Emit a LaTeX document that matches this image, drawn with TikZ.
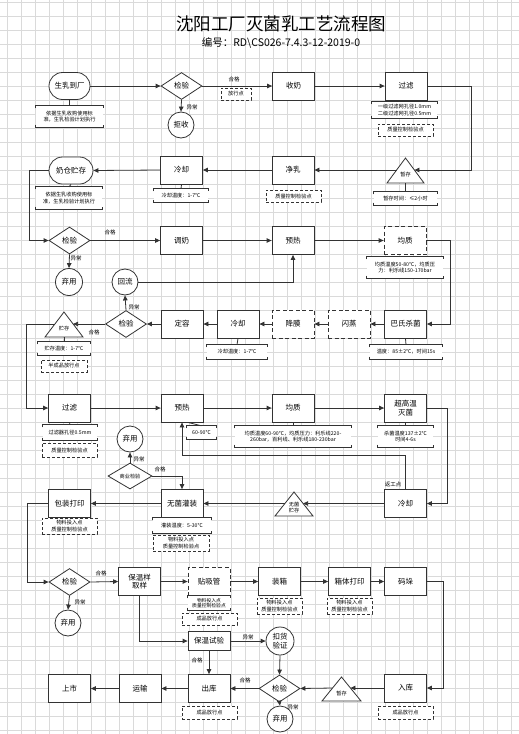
\documentclass[tikz,border=0pt]{standalone}
\usepackage{fontspec}
\setmainfont{Noto Sans CJK SC}
\usetikzlibrary{shapes.geometric,arrows.meta,calc}
\definecolor{lnc}{HTML}{333333}
\definecolor{gridc}{HTML}{DADADA}
\newcommand\boxf{\fontsize{7.5}{8.5}\selectfont}
\newcommand\notef{\fontsize{5.2}{6.4}\selectfont}
\newcommand\labf{\fontsize{5.5}{6.5}\selectfont}
\newcommand\notebrk[1]{\draw[ln,line width=0.7pt] ([yshift=-2.5pt]#1.north west) -- (#1.north west) -- (#1.north east) -- ([yshift=-2.5pt]#1.north east) ([yshift=2.5pt]#1.south west) -- (#1.south west) -- (#1.south east) -- ([yshift=2.5pt]#1.south east);}
\tikzset{
 ln/.style={draw=lnc, line width=0.8pt},
 arr/.style={ln, -{Triangle[length=5pt,width=4.5pt]}},
 proc/.style={ln, fill=white, minimum width=42pt, minimum height=28pt, font=\boxf, align=center, inner sep=1pt},
 dproc/.style={proc, dash pattern=on 4pt off 2.5pt},
 term/.style={proc, rounded corners=13.5pt, minimum height=27pt},
 dec/.style={ln, fill=white, diamond, minimum width=41pt, minimum height=27pt, inner sep=0pt, font=\boxf},
 circ/.style={ln, fill=white, circle, minimum size=26pt, inner sep=0pt, font=\boxf, align=center},
 note/.style={fill=white, font=\notef, align=center, inner sep=0.5pt},
 dnote/.style={note, ln, dash pattern=on 3pt off 2pt, line width=0.7pt},
 lab/.style={font=\labf, inner sep=0.5pt},
 trit/.style={font=\notef, align=center, inner sep=0pt},
 tri/.style={ln, fill=white},
}
\begin{document}
\begin{tikzpicture}[x=1pt,y=-1pt]
\useasboundingbox (0,0) rectangle (519,734);
\fill[white] (0,0) rectangle (519,734);
\foreach \x in {7,21,...,517} \draw[gridc,line width=0.5pt] (\x,0) -- (\x,734);
\foreach \y in {2,16,...,733} \draw[gridc,line width=0.5pt] (0,\y) -- (519,\y);

% title
\node (title) at (281,24) {\fontsize{17.5}{20}\selectfont 沈阳工厂灭菌乳工艺流程图};
\node (sub) at (281,43) {\fontsize{10.5}{12}\selectfont 编号：RD\textbackslash CS026-7.4.3-12-2019-0};

% row 1
\node[term, minimum width=41pt] (a1) at (69.5,86) {生乳到厂};
\node[note, minimum width=67pt, minimum height=21pt] (a1n) at (69.5,116.5) {依据生乳收购使用标\\准，生乳检验计划执行}; \notebrk{a1n}
\node[dec] (a2) at (181.5,86) {检验};
\node[lab] (a2g) at (234,79) {合格};
\node[dnote, minimum width=30pt, minimum height=12pt] (a2p) at (236,94) {放行点};
\node[lab] (a2x) at (192,107) {异常};
\node[circ, minimum size=26pt] (a3) at (181,125) {拒收};
\node[proc] (a4) at (293.5,86) {收奶};
\node[proc] (a5) at (406,86) {过滤};
\node[note, minimum width=65pt, minimum height=16pt] (a5n) at (404.5,110) {一级过滤网孔径1.0mm\\二级过滤网孔径0.5mm}; \notebrk{a5n}
\node[dnote, minimum width=55pt, minimum height=12pt] (a5d) at (405.5,130) {质量控制检验点};

% row 2
\node[term, minimum width=44pt] (b1) at (71,170.5) {奶仓贮存};
\node[note, minimum width=66pt, minimum height=22pt] (b1n) at (69,198) {依据生乳收购使用标\\准，生乳检验计划执行}; \notebrk{b1n}
\node[proc] (b2) at (181.5,170) {冷却};
\node[note, minimum width=54pt, minimum height=13pt] (b2n) at (181,195.5) {冷却温度：1-7℃}; \notebrk{b2n}
\node[proc] (b3) at (293,170) {净乳};
\node[dnote, minimum width=55pt, minimum height=12pt] (b3n) at (293.5,196) {质量控制检验点};
\draw[tri] (405.5,158) -- (424,183) -- (387,183) -- cycle;
\node[trit] (b4) at (405.5,175) {暂存};
\coordinate (b4r) at (414.4,170);
\coordinate (b4l) at (396.6,170);
\coordinate (b4b) at (405.5,183);
\node[note, minimum width=63pt, minimum height=13pt] (b4n) at (405.5,198.5) {暂存时间：≤2小时}; \notebrk{b4n}

% row 3
\node[dec] (c1) at (69.5,240.5) {检验};
\node[lab] (c1g) at (110,232) {合格};
\node[lab] (c1x) at (76,258) {异常};
\node[circ, minimum size=27pt] (c1o) at (69,282) {弃用};
\node[proc] (c2) at (181.5,240.5) {调奶};
\node[proc] (c3) at (293,240.5) {预热};
\node[dproc] (c4) at (405,240.5) {均质};
\node[note, minimum width=76pt, minimum height=21pt] (c4n) at (405,267.5) {均质温度50-80℃，均质压\\力：利乐线150-170bar}; \notebrk{c4n}
\node[circ, minimum size=26pt] (c5) at (125,282) {回流};

% row 4
\draw[tri] (64,312) -- (83,337) -- (45,337) -- cycle;
\node[trit] (d1) at (64,329) {贮存};
\coordinate (d1r) at (73.1,324);
\coordinate (d1l) at (54.9,324);
\coordinate (d1b) at (64,337);
\node[note, minimum width=52pt, minimum height=13pt] (d1n) at (64,348.5) {贮存温度：1-7℃}; \notebrk{d1n}
\node[dnote, minimum width=46pt, minimum height=12pt] (d1d) at (64,366) {半成品放行点};
\node[dec] (d2) at (126,324) {检验};
\node[lab] (d2g) at (94,332) {合格};
\node[lab] (d2x) at (134,307) {异常};
\node[proc] (d3) at (182,324) {定容};
\node[proc] (d4) at (238,324) {冷却};
\node[note, minimum width=60pt, minimum height=14pt] (d4n) at (237,352) {冷却温度：1-7℃}; \notebrk{d4n}
\node[dproc] (d5) at (293,324) {降膜};
\node[dproc] (d6) at (349,324) {闪蒸};
\node[proc] (d7) at (405.5,324) {巴氏杀菌};
\node[note, minimum width=72pt, minimum height=14pt] (d7n) at (406,352) {温度：85±2℃，时间15s}; \notebrk{d7n}

% row 5
\node[proc] (e1) at (69.5,408) {过滤};
\node[note, minimum width=54pt, minimum height=15pt] (e1n) at (70,432.5) {过滤器孔径0.5mm}; \notebrk{e1n}
\node[dnote, minimum width=55pt, minimum height=14pt] (e1d) at (69.5,450) {质量控制检验点};
\node[proc] (e2) at (182,408) {预热};
\node[note, minimum width=29pt, minimum height=13pt] (e2n) at (201.5,432.5) {60-90℃}; \notebrk{e2n}
\node[proc] (e3) at (293,408) {均质};
\node[note, minimum width=116pt, minimum height=21pt] (e3n) at (293,436.5) {均质温度60-90℃，均质压力：利乐线220-\\260bar，百利线、利乐线180-230bar}; \notebrk{e3n}
\node[proc] (e4) at (405.5,408) {超高温\\灭菌};
\node[note, minimum width=55pt, minimum height=21pt] (e4n) at (405.5,436.5) {杀菌温度137±2℃\\时间4-6s}; \notebrk{e4n}

% row 6
\node[circ, minimum size=26pt] (f0o) at (130,439) {弃用};
\node[dec, minimum width=44pt, minimum height=26pt, font=\notef] (f0) at (130,476) {商业检验};
\node[lab] (f0x) at (139,459) {异常};
\node[lab] (f0g) at (160,469) {合格};
\node[proc] (f1) at (69.5,503.5) {包装打印};
\node[dnote, minimum width=55pt, minimum height=16pt] (f1n) at (69.5,526) {物料投入点\\质量控制检验点};
\node[proc] (f2) at (182,503.5) {无菌灌装};
\node[note, minimum width=58pt, minimum height=15pt] (f2n) at (182,525.5) {灌装温度：5-30℃}; \notebrk{f2n}
\node[dnote, minimum width=56pt, minimum height=16pt] (f2d) at (181,543) {物料投入点\\质量控制检验点};
\draw[tri] (294,492) -- (313,516) -- (275,516) -- cycle;
\node[trit] (f3) at (294,507.5) {无菌\\贮存};
\coordinate (f3r) at (303.1,503.5);
\coordinate (f3l) at (284.9,503.5);
\node[proc] (f4) at (405.5,503.5) {冷却};
\node[lab] (f4l) at (393,484) {返工点};

% row 7
\node[dec] (g1) at (69.5,582) {检验};
\node[lab] (g1g) at (101,573) {合格};
\node[lab] (g1x) at (80,602) {异常};
\node[circ, minimum size=26pt] (g1o) at (68,623) {弃用};
\node[proc] (g2) at (139.5,581.5) {保温样\\取样};
\node[dproc] (g3) at (209,581.5) {贴吸管};
\node[note, minimum width=42pt, minimum height=14pt, font=\fontsize{4.8}{5.6}\selectfont] (g3n) at (209,603) {物料投入点\\质量控制检验点}; \notebrk{g3n}
\node[dnote, minimum width=55pt, minimum height=12pt] (g3d) at (209.5,619) {成品放行点};
\node[proc] (g4) at (279.5,581.5) {装箱};
\node[dnote, minimum width=45pt, minimum height=16pt] (g4n) at (279.5,606) {物料投入点\\质量控制检验点};
\node[proc] (g5) at (349.5,581.5) {箱体打印};
\node[dnote, minimum width=45pt, minimum height=16pt] (g5n) at (349.5,606) {物料投入点\\质量控制检验点};
\node[proc] (g6) at (405.5,581.5) {码垛};

% row 8
\node[proc, minimum height=19pt] (h1) at (209,641) {保温试验};
\node[circ, minimum size=28pt] (h2) at (280,641) {扣货\\验证};
\node[dec] (h3) at (279.5,688.5) {检验};
\node[circ, minimum size=26pt] (h3o) at (280,719) {弃用};
\draw[tri] (341.5,677) -- (361,701) -- (322,701) -- cycle;
\node[trit] (h4) at (341.5,694) {暂存};
\coordinate (h4r) at (350.4,688);
\coordinate (h4l) at (332.6,688);
\node[proc] (h5) at (405.5,688) {入库};
\node[dnote, minimum width=55pt, minimum height=13pt] (h5n) at (405.5,712.5) {成品放行点};
\node[proc] (h6) at (209,688.5) {出库};
\node[dnote, minimum width=55pt, minimum height=13pt] (h6n) at (209.5,712.5) {成品放行点};
\node[proc] (h7) at (140,688.5) {运输};
\node[proc] (h8) at (69.5,688.5) {上市};
\node[lab] (h1x) at (248,637) {异常};
\node[lab] (h1g) at (197,660) {合格};
\node[lab] (h3g) at (245,680) {合格};
\node[lab] (h3x) at (293,707) {异常};

% note leaders
\draw[ln] (a1.south) -- (a1n.north);
\draw[ln] (b1.south) -- (b1n.north);
\draw[ln] (b2.south) -- (b2n.north);
\draw[ln] (b4b) -- (b4n.north);
\draw[ln] (d1b) -- (d1n.north);
\draw[ln] (d4.south) -- (d4n.north);
\draw[ln] (d7.south) -- (d7n.north);
\draw[ln] (e1.south) -- (e1n.north);
\draw[ln] ([xshift=6pt]e2.south) -- (e2n.north);
\draw[ln] (e3.south) -- (e3n.north);
\draw[ln] (e4.south) -- (e4n.north);

% connectors
\draw[arr] (a1.east) -- (a2.west);
\draw[arr] (a2.east) -- (a4.west);
\draw[arr] (a4.east) -- (a5.west);
\draw[arr] (a2.south) -- (a3.north);
\draw[arr] (a5.east) -- ++(44,0) |- (b4r);
\draw[arr] (b4l) -- (b3.east);
\draw[arr] (b3.west) -- (b2.east);
\draw[arr] (b2.west) -- (b1.east);
\draw[arr] (b1.west) -- ++(-19.5,0) |- (c1.west);
\draw[arr] (c1.east) -- (c2.west);
\draw[arr] (c2.east) -- (c3.west);
\draw[arr] (c3.east) -- (c4.west);
\draw[arr] (c1.south) -- (c1o.north);
\draw[arr] (c4.east) -- ++(24,0) |- (d7.east);
\draw[arr] (c5.east) -| (c3.south);
\draw[arr] (d7.west) -- (d6.east);
\draw[arr] (d6.west) -- (d5.east);
\draw[arr] (d5.west) -- (d4.east);
\draw[arr] (d4.west) -- (d3.east);
\draw[arr] (d3.west) -- (d2.east);
\draw[arr] (d2.west) -- (d1r);
\draw[arr] (d2.north) -- (c5.south);
\draw[arr] (d1l) -- ++(-28.9,0) |- (e1.west);
\draw[arr] (e1.east) -- (e2.west);
\draw[arr] (e2.east) -- (e3.west);
\draw[arr] (e3.east) -- (e4.west);
\draw[arr] (e4.east) -- ++(20,0) |- (f4.east);
\draw[arr] (f4.north) -- ++(0,-33.5) -| (e2.south);
\draw[arr] (f4.west) -- (f3r);
\draw[arr] (f3l) -- (f2.east);
\draw[arr] (f2.west) -- (f1.east);
\draw[arr] (f0.north) -- (f0o.south);
\draw[arr] (f0.east) -| (f2.north);
\draw[arr] (f1.west) -- ++(-20.5,0) |- (g1.west);
\draw[arr] (g1.east) -- (g2.west);
\draw[arr] (g1.south) -- (g1o.north);
\draw[arr] (g2.east) -- (g3.west);
\draw[arr] (g3.east) -- (g4.west);
\draw[arr] (g4.east) -- (g5.west);
\draw[arr] (g5.east) -- (g6.west);
\draw[arr] (g6.east) -- ++(16,0) |- (h5.east);
\draw[arr] (h5.west) -- (h4r);
\draw[arr] (h4l) -- (h3.east);
\draw[arr] (h3.west) -- (h6.east);
\draw[arr] (h6.west) -- (h7.east);
\draw[arr] (h7.west) -- (h8.east);
\draw[arr] (h3.south) -- (h3o.north);
\draw[arr] (h2.south) -- (h3.north);
\draw[arr] (g2.south) |- (h1.west);
\draw[arr] (h1.east) -- (h2.west);
\draw[arr] (h1.south) -- (h6.north);
\end{tikzpicture}
\end{document}
